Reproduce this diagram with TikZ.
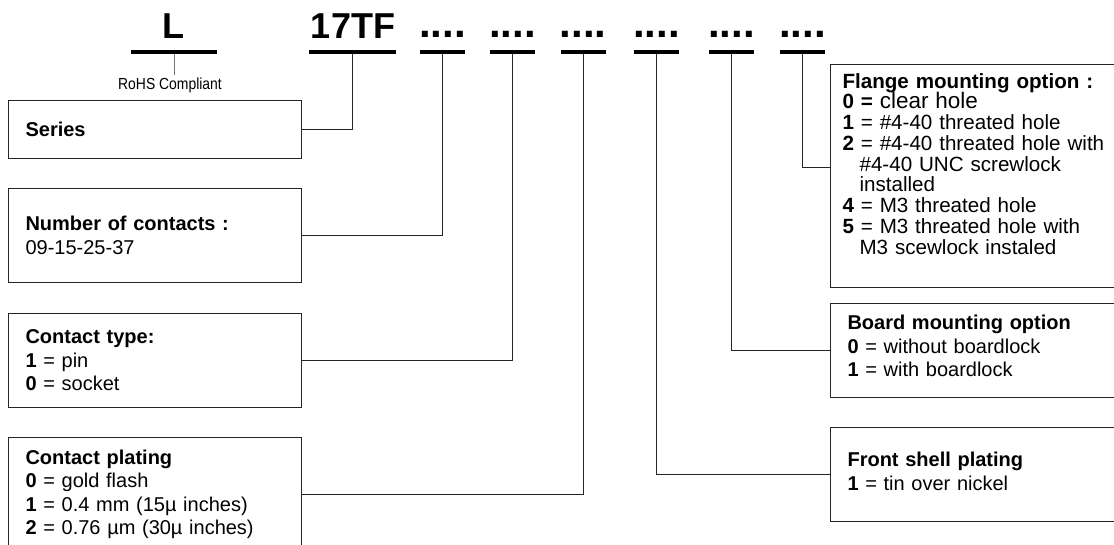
\documentclass[tikz,border=0pt]{standalone}
\usepackage{fontspec}
\setmainfont{Liberation Sans}
\newfontfamily\narrowfont[FakeStretch=0.87]{Liberation Sans}
\begin{document}
\begin{tikzpicture}[x=1pt,y=-1pt,
		code/.style={anchor=base,inner sep=0pt,font=\fontsize{36}{36}\selectfont\bfseries},
		dots/.style={anchor=base,inner sep=0pt,font=\fontsize{42}{42}\selectfont\bfseries},
		bar/.style={fill=black,inner sep=0pt,minimum height=3.3pt,minimum width=#1},
		optbox/.style={draw=black!85,line width=1.1pt,anchor=north west,align=left,inner xsep=17pt,text width=259pt,minimum height=#1,font=\fontsize{20}{23.5}\selectfont},
		rbox/.style={optbox=#1,text width=280pt},
		link/.style={draw=black!85,line width=0.9pt}]
	\useasboundingbox (0,0) rectangle (1114,545);

	% Part number
	\node[code] (L) at (173,39) {L};
	\node[bar=86pt] (bL) at (174,52) {};
	\node[anchor=base,font=\fontsize{16}{16}\narrowfont] (rohs) at (170,90) {RoHS Compliant};

	\node[code] (TF) at (353,39) {17TF};
	\node[bar=87pt] (bTF) at (352.5,52) {};

	\foreach \x [count=\i] in {442.5,512.5,583,656.5,731.5,802.5} {
		\node[dots] (d\i) at (\x,38) {....};
		\node[bar=45pt] (b\i) at (\x,52) {};
	}

	% Left boxes
	\node[optbox=58pt] (series) at (8,100) {\textbf{Series}};
	\node[optbox=94pt] (contacts) at (8,188) {\textbf{Number of contacts :}\\09-15-25-37};
	\node[optbox=94pt] (ctype) at (8,313) {\textbf{Contact type:}\\\textbf{1} = pin\\\textbf{0} = socket};
	\node[optbox=114pt] (cplating) at (8,437) {\textbf{Contact plating}\\\textbf{0} = gold flash\\\textbf{1} = 0.4 mm (15µ inches)\\\textbf{2} = 0.76 µm (30µ inches)};

	% Right boxes
	\node[rbox=223pt,inner xsep=12pt,font=\fontsize{20.6}{20.75}\selectfont] (flange) at (830,64) {\textbf{Flange mounting option :}\\
		\textbf{0 =} {\fontsize{22.5}{20.75}\selectfont clear hole}\\
		\textbf{1} = \#4-40 threated hole\\
		\textbf{2} = \#4-40 threated hole with\\
		\hspace*{17pt}\#4-40 UNC screwlock\\
		\hspace*{17pt}installed\\
		\textbf{4} = M3 threated hole\\
		\textbf{5} = M3 threated hole with\\
		\hspace*{17pt}M3 scewlock instaled\rule[-25pt]{0pt}{25pt}};
	\node[rbox=94pt] (board) at (830,303) {\textbf{Board mounting option}\\\textbf{0} = without boardlock\\\textbf{1} = with boardlock\rule[-9pt]{0pt}{9pt}};
	\node[rbox=94pt] (front) at (830,427) {\textbf{Front shell plating}\\\textbf{1} = tin over nickel\rule[-7pt]{0pt}{7pt}};

	% Connectors
	\draw[link,draw=black!55] (bL.south) -- (bL.south |- rohs.north);
	\draw[link] (bTF.south) |- (series.east);
	\draw[link] (b1.south) |- (contacts.east);
	\draw[link] (b2.south) |- (ctype.east);
	\draw[link] (b3.south) |- (cplating.east);
	\draw[link] (b4.south) |- (front.west);
	\draw[link] (b5.south) |- (board.west);
	\draw[link] (b6.south) |- ([yshift=8.5pt]flange.west);
\end{tikzpicture}
\end{document}
